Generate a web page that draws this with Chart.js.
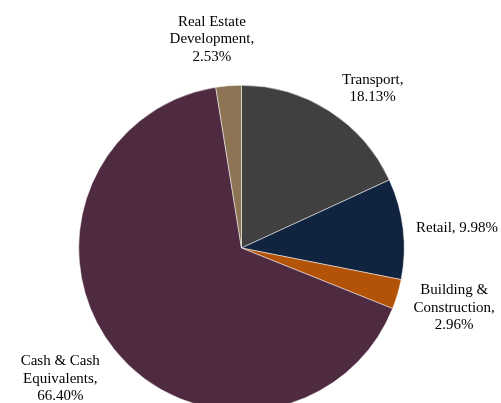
<!DOCTYPE html>
<html><head><meta charset="utf-8">
<script src="https://cdn.jsdelivr.net/npm/chart.js@4/dist/chart.umd.min.js"></script>
<style>
html,body{margin:0;padding:0;background:#fff;overflow:hidden;width:501px;height:403px;}
#wrap{position:absolute;left:0;top:0;width:501px;height:420px;}
</style></head>
<body>
<div id="wrap"><canvas id="c"></canvas></div>
<script>
const categories = ["Transport", "Retail", "Building & Construction", "Cash & Cash Equivalents", "Real Estate Development"];
const values = [18.13, 9.98, 2.96, 66.40, 2.53];
const labelLines = [["Transport,", "18.13%"], ["Retail, 9.98%"], ["Building &", "Construction,", "2.96%"], ["Cash & Cash", "Equivalents,", "66.40%"], ["Real Estate", "Development,", "2.53%"]];
const colors = ["#404040", "#10243f", "#b35308", "#4f2b42", "#8c7455"];

// label placement: distance factor from center along mid-angle, plus nudge
const labelLayout = [
  {f:1.27, a:6.4, dx:1, dy:1},
  {f:1.33, a:1.5, dx:0, dy:0},
  {f:1.35, a:-1, dx:1, dy:1},
  {f:1.37, a:3, dx:0, dy:1},
  {f:1.30, a:-3.5, dx:0, dy:1}
];

const labelPlugin = {
  id: 'outLabels',
  afterDraw(chart) {
    const ctx = chart.ctx;
    const meta = chart.getDatasetMeta(0);
    ctx.save();
    ctx.font = '15px "Liberation Serif", "Times New Roman", serif';
    ctx.fillStyle = '#000';
    ctx.textAlign = 'center';
    ctx.textBaseline = 'middle';
    meta.data.forEach((arc, i) => {
      const p = arc.getProps(['x','y','startAngle','endAngle','outerRadius'], true);
      const L = labelLayout[i];
      const mid = (p.startAngle + p.endAngle) / 2 + L.a * Math.PI / 180;
      const r = p.outerRadius * L.f;
      const cx = p.x + Math.cos(mid) * r + L.dx;
      const cy = p.y + Math.sin(mid) * r + L.dy;
      const lines = labelLines[i];
      const lh = 17.5;
      lines.forEach((t, k) => {
        ctx.fillText(t, cx, cy + (k - (lines.length - 1) / 2) * lh);
      });
    });
    ctx.restore();
  }
};

new Chart(document.getElementById('c'), {
  type: 'pie',
  data: {
    labels: categories,
    datasets: [{ data: values, backgroundColor: colors, borderWidth: 0.5, borderColor: '#ffffff' }]
  },
  options: {
    responsive: true,
    maintainAspectRatio: false,
    animation: false,
    layout: { padding: { left: 78.5, right: 96.5, top: 85, bottom: 9 } },
    plugins: { legend: { display: false }, tooltip: { enabled: false } }
  },
  plugins: [labelPlugin]
});
</script>
</body></html>
